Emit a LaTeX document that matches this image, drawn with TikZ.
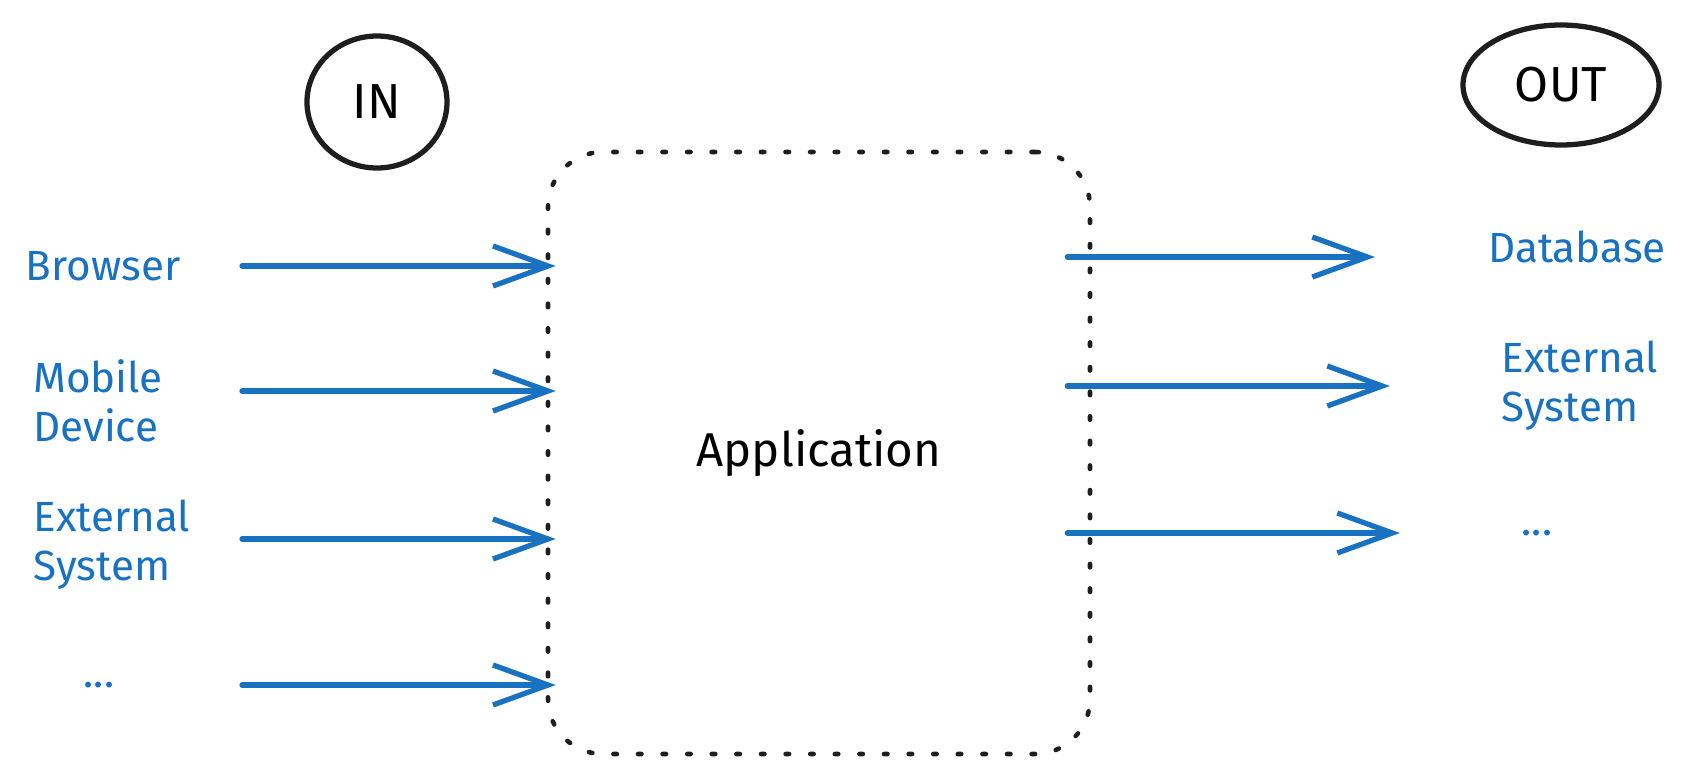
\documentclass[tikz,border=0pt]{standalone}
\usepackage{fontspec}
\setmainfont{Fira Sans}
\usetikzlibrary{positioning, arrows.meta, shapes.geometric}
\definecolor{inkblue}{HTML}{1971C2}
\definecolor{inkgray}{HTML}{1E1E1E}

\begin{document}
\begin{tikzpicture}[
    >={Straight Barb[length=5.5mm, width=4mm]},
    itemtext/.style={text=inkblue, font=\fontsize{12}{14}\selectfont, align=left},
    flow/.style={->, draw=inkblue, line width=1.5pt, line cap=round},
    side/.style={ellipse, draw=inkgray, line width=1.5pt, font=\fontsize{14}{16}\selectfont},
  ]
  \useasboundingbox (0,0) rectangle (17,7.79);

  \node[draw=inkgray, line width=1.3pt, line cap=round,
    dash pattern=on 1pt off 6pt, rounded corners=0.55cm,
    minimum width=5.42cm, minimum height=6.02cm,
    font=\fontsize{13.5}{15}\selectfont] (app) at (8.19,3.26) {Application};

  \node[side, minimum width=1.4cm, minimum height=1.32cm] (in) at (3.77,6.77) {IN};
  \node[side, minimum width=1.96cm, minimum height=1.2cm] (out) at (15.61,6.94) {OUT};

  % inputs
  \node[itemtext] (browser) at (1.03,5.13) {Browser};
  \node[itemtext] (mobile) at (0.98,3.78) {Mobile\\Device};
  \node[itemtext] (extin) at (1.12,2.34) {External\\System};
  \node[itemtext] (morein) at (0.99,0.94) {...};

  % outputs
  \node[itemtext] (database) at (15.77,5.32) {Database};
  \node[itemtext] (extout) at (15.80,3.93) {External\\System};
  \node[itemtext] (moreout) at (15.37,2.46) {...};

  \coordinate (srcx) at (2.42,0);
  \coordinate (dstx) at (13.75,0);

  \path[shorten >=-1mm]
  (browser -| srcx) edge[flow] (browser -| app.west)
  ([yshift=1mm]mobile.east -| srcx) edge[flow] ([yshift=1mm]mobile.east -| app.west)
  ([yshift=0.6mm]extin.east -| srcx) edge[flow] ([yshift=0.6mm]extin.east -| app.west)
  (morein -| srcx) edge[flow] (morein -| app.west);

  \path[shorten <=-2.5mm]
  ([yshift=-1mm]database.west -| app.east) edge[flow] ([yshift=-1mm]database.west -| dstx)
  (extout -| app.east) edge[flow] ([xshift=1.5mm]extout -| dstx)
  (moreout -| app.east) edge[flow] ([xshift=2.5mm]moreout -| dstx);

\end{tikzpicture}
\end{document}
